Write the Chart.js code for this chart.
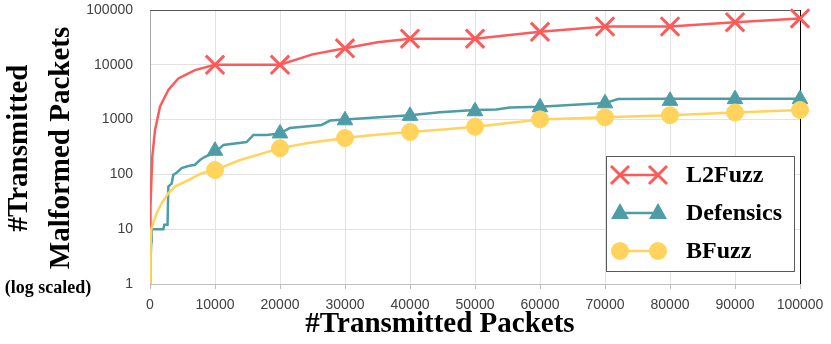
<!DOCTYPE html>
<html>
<head>
<meta charset="utf-8">
<script src="https://cdn.jsdelivr.net/npm/chart.js@4/dist/chart.umd.min.js"></script>
<style>
  body { margin: 0; background: #fff; }
  #wrap { width: 831px; height: 344px; }
</style>
</head>
<body>
<div id="wrap"><canvas id="chart" width="831" height="344"></canvas></div>
<script>
// values
let seriesNames = ['L2Fuzz', 'Defensics', 'BFuzz'];
let xTicks = [0, 10000, 20000, 30000, 40000, 50000, 60000, 70000, 80000, 90000, 100000];
let yTicks = [1, 10, 100, 1000, 10000, 100000];

// cumulative curves
let l2fuzzX = [0, 40, 100, 200, 350, 770, 1540, 2820, 4360, 6920, 10000, 20000, 25000, 30000, 35000, 40000, 50000, 60000, 70000, 80000, 90000, 100000];
let l2fuzzY = [1, 8, 26, 70, 210, 640, 1730, 3460, 5650, 8000, 10000, 10000, 15500, 20000, 25700, 30000, 30000, 40000, 50000, 50000, 60000, 70000];

let defensicsX = [0, 100, 200, 260, 2050, 2200, 2700, 2820, 3330, 3590, 4100, 4870, 5900, 6920, 7690, 8460, 10000, 11300, 14870, 15900, 17950, 20000, 21500, 26400, 27700, 30000, 40000, 44600, 50000, 53300, 55400, 60000, 64600, 70000, 72000, 80000, 90000, 100000];
let defensicsY = [1, 3, 6, 10, 10, 12, 12, 60, 68, 98, 107, 130, 142, 150, 183, 210, 250, 345, 390, 525, 525, 560, 700, 800, 960, 1000, 1200, 1360, 1500, 1530, 1660, 1720, 1850, 2000, 2380, 2400, 2400, 2400];

let bfuzzX = [0, 100, 200, 510, 1030, 1800, 2820, 3850, 5900, 7950, 10000, 13850, 16400, 20000, 24100, 30000, 34400, 40000, 44600, 50000, 60000, 70000, 80000, 90000, 100000];
let bfuzzY = [1, 5, 10, 13, 19.5, 30, 45, 60, 79, 105, 120, 183, 225, 300, 370, 460, 525, 595, 650, 740, 1000, 1100, 1200, 1350, 1500];

// markers every 10000 packets
let markX = [10000, 20000, 30000, 40000, 50000, 60000, 70000, 80000, 90000, 100000];
let l2fuzzMarks = [10000, 10000, 20000, 30000, 30000, 40000, 50000, 50000, 60000, 70000];
let defensicsMarks = [270, 560, 970, 1170, 1420, 1680, 1980, 2200, 2360, 2360];
let bfuzzMarks = [120, 300, 460, 595, 740, 1010, 1100, 1200, 1350, 1500];

let colors = ['#FF5A5A', '#4E9DA6', '#FFD35C'];

function pairs(xs, ys){
    let out = [];
    for(let i = 0; i < xs.length; i++){
        out.push({x: xs[i], y: ys[i]});
    }
    return out;
}

function lineSet(xs, ys, color, order){
    return {
        data: pairs(xs, ys),
        borderColor: color,
        borderWidth: 2.5,
        pointRadius: 0,
        tension: 0,
        fill: false,
        order: order
    };
}

function markSet(ys, color, style, radius, order){
    return {
        data: pairs(markX, ys),
        showLine: false,
        pointStyle: style,
        pointRadius: radius,
        pointBackgroundColor: color,
        pointBorderColor: color,
        pointBorderWidth: style == 'crossRot' ? 3 : 1,
        clip: false,
        order: order
    };
}

function drawMarker(ctx, style, x, y, color){
    ctx.save();
    ctx.fillStyle = color;
    ctx.strokeStyle = color;
    if(style == 'crossRot'){
        ctx.lineWidth = 3;
        ctx.beginPath();
        ctx.moveTo(x - 9, y - 9); ctx.lineTo(x + 9, y + 9);
        ctx.moveTo(x + 9, y - 9); ctx.lineTo(x - 9, y + 9);
        ctx.stroke();
    }
    else if(style == 'triangle'){
        ctx.beginPath();
        ctx.moveTo(x, y - 10);
        ctx.lineTo(x + 9, y + 6);
        ctx.lineTo(x - 9, y + 6);
        ctx.closePath();
        ctx.fill();
    }
    else{
        ctx.beginPath();
        ctx.arc(x, y, 9, 0, Math.PI * 2);
        ctx.fill();
    }
    ctx.restore();
}

let extras = {
    id: 'extras',
    beforeDatasetsDraw(chart){
        let ctx = chart.ctx;
        let a = chart.chartArea;
        ctx.save();
        ctx.lineWidth = 1;
        ctx.strokeStyle = '#595959';
        ctx.beginPath();
        ctx.moveTo(a.left, a.top + 0.5);
        ctx.lineTo(a.right, a.top + 0.5);
        ctx.stroke();
        ctx.strokeStyle = '#000';
        ctx.beginPath();
        ctx.moveTo(a.right + 0.5, a.top);
        ctx.lineTo(a.right + 0.5, a.bottom);
        ctx.stroke();
        ctx.restore();
    },
    afterDraw(chart){
        let ctx = chart.ctx;
        ctx.save();
        ctx.fillStyle = '#000';
        ctx.textAlign = 'center';
        ctx.textBaseline = 'middle';

        // axis titles
        ctx.font = 'bold 29px "Liberation Serif"';
        ctx.fillText('#Transmitted Packets', 440, 325);

        ctx.save();
        ctx.translate(20, 148);
        ctx.rotate(-Math.PI / 2);
        ctx.fillText('#Transmitted', 0, 0);
        ctx.restore();

        ctx.save();
        ctx.translate(62, 148);
        ctx.rotate(-Math.PI / 2);
        ctx.fillText('Malformed Packets', 0, 0);
        ctx.restore();

        ctx.font = 'bold 18px "Liberation Serif"';
        ctx.fillText('(log scaled)', 48, 288);

        // legend box
        ctx.fillStyle = '#fff';
        ctx.fillRect(606, 156, 188, 115);
        ctx.strokeStyle = '#595959';
        ctx.lineWidth = 1;
        ctx.strokeRect(606.5, 156.5, 188, 115);

        let styles = ['crossRot', 'triangle', 'circle'];
        let rows = [175, 213, 251];
        ctx.font = 'bold 24px "Liberation Serif"';
        ctx.textAlign = 'left';
        for(let i = 0; i < seriesNames.length; i++){
            ctx.strokeStyle = colors[i];
            ctx.lineWidth = 2.5;
            ctx.beginPath();
            ctx.moveTo(620, rows[i]);
            ctx.lineTo(658, rows[i]);
            ctx.stroke();
            drawMarker(ctx, styles[i], 620, rows[i], colors[i]);
            drawMarker(ctx, styles[i], 658, rows[i], colors[i]);
            ctx.fillStyle = '#000';
            ctx.fillText(seriesNames[i], 686, rows[i] + 1);
        }
        ctx.restore();
    }
};

let chartCanvas = document.getElementById('chart').getContext('2d');

let config = {
    type: 'line',
    data: {
        datasets: [
            markSet(l2fuzzMarks, colors[0], 'crossRot', 13, 2),
            markSet(defensicsMarks, colors[1], 'triangle', 9, 1),
            markSet(bfuzzMarks, colors[2], 'circle', 8.5, 0),
            lineSet(l2fuzzX, l2fuzzY, colors[0], 12),
            lineSet(defensicsX, defensicsY, colors[1], 11),
            lineSet(bfuzzX, bfuzzY, colors[2], 10)
        ]
    },
    options: {
        responsive: false,
        animation: false,
        devicePixelRatio: 1,
        layout: {
            autoPadding: false,
            padding: {left: 0, top: 10, right: 31, bottom: 0}
        },
        plugins: {
            legend: {display: false},
            tooltip: {enabled: false}
        },
        scales: {
            x: {
                type: 'linear',
                min: 0,
                max: 100000,
                afterBuildTicks: (s) => { s.ticks = xTicks.map(v => ({value: v})); },
                afterFit: (s) => { s.height = 60; s.paddingLeft = 0; s.paddingRight = 0; },
                ticks: {
                    callback: (v) => String(v),
                    font: {family: 'Liberation Sans', size: 14},
                    color: '#404040',
                    padding: 8,
                    maxRotation: 0,
                    autoSkip: false
                },
                grid: {color: '#e2e2e2', lineWidth: 1, tickLength: 5, tickColor: '#bfbfbf'},
                border: {color: '#bfbfbf', width: 1}
            },
            y: {
                type: 'logarithmic',
                min: 1,
                max: 100000,
                afterBuildTicks: (s) => { s.ticks = yTicks.map(v => ({value: v})); },
                afterFit: (s) => { s.width = 150; s.paddingTop = 0; s.paddingBottom = 0; },
                ticks: {
                    callback: (v) => String(v),
                    font: {family: 'Liberation Sans', size: 14},
                    color: '#404040',
                    padding: 17
                },
                grid: {color: '#e2e2e2', lineWidth: 1, drawTicks: false},
                border: {color: '#a6a6a6', width: 1}
            }
        }
    },
    plugins: [extras]
};

let chart = new Chart(chartCanvas, config);
</script>
</body>
</html>
